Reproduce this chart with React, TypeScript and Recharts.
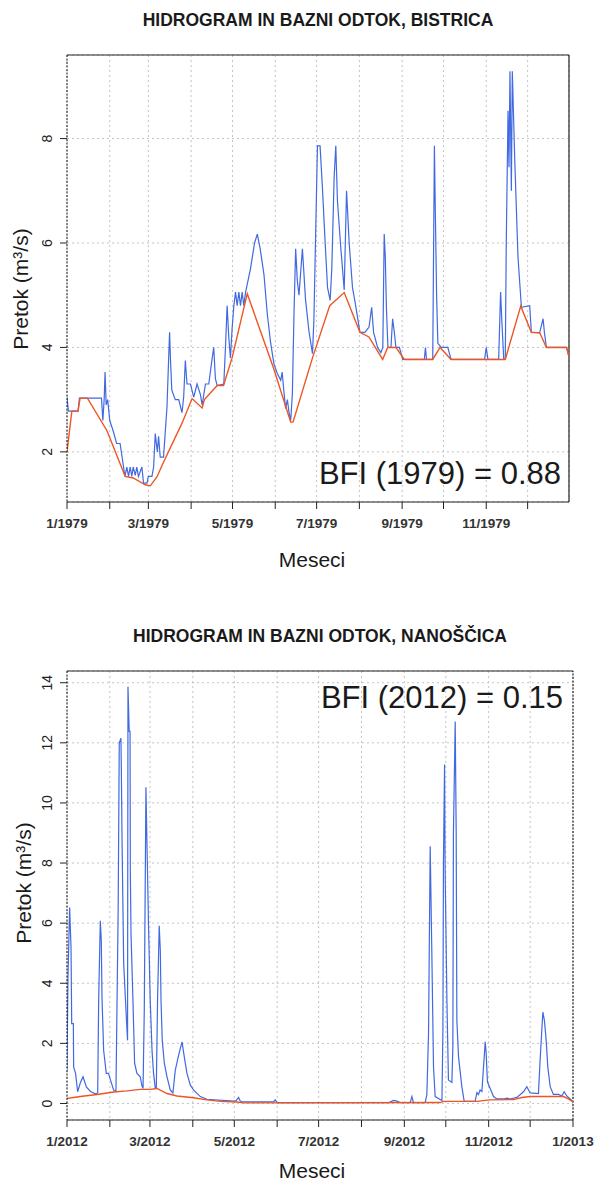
import { LineChart, Line, XAxis, YAxis, CartesianGrid, ReferenceLine } from 'recharts'

const BLUE = '#4169e1'
const ORANGE = '#ee5522'
const FONT = '"Liberation Sans", Arial, sans-serif'

// day of year at the start of each month
const MONTHS_1979 = [0, 31, 59, 90, 120, 151, 181, 212, 243, 273, 304, 334]
const LABELS_1979 = ['1/1979', '', '3/1979', '', '5/1979', '', '7/1979', '', '9/1979', '', '11/1979', '']
const MONTHS_2012 = [0, 31, 60, 91, 121, 152, 182, 213, 244, 274, 305, 335, 366]
const LABELS_2012 = ['1/2012', '', '3/2012', '', '5/2012', '', '7/2012', '', '9/2012', '', '11/2012', '', '1/2013']

const Y_TICKS_1979 = [2, 4, 6, 8]
const Y_TICKS_2012 = [0, 2, 4, 6, 8, 10, 12, 14]

// Bistrica 1979: [day, m3/s]
const BISTRICA_FLOW = [
  [0, 3.05], [1, 2.78], [8, 2.78], [9, 3.03], [25, 3.03], [26, 2.6], [27, 3.03], [27.6, 3.53], [28.4, 2.9],
  [29.5, 3.0], [31, 2.6], [33.5, 2.4], [36, 2.16], [38.5, 2.16], [41, 1.71], [42, 1.53], [43.4, 1.71],
  [44.6, 1.53], [45.8, 1.71], [47, 1.53], [48, 1.71], [49.5, 1.55], [50.6, 1.71], [51.8, 1.53], [54.3, 1.71],
  [55.5, 1.4], [58, 1.4], [59, 1.53], [61.6, 1.53], [62.8, 1.71], [64, 2.35], [65.5, 2.0], [66.4, 2.3],
  [67.6, 1.9], [70, 1.9], [72.5, 2.86], [73.7, 3.79], [74.4, 4.29], [75, 3.79], [76, 3.18], [78.5, 3.0],
  [81, 3.0], [83.4, 2.75], [84.6, 3.05], [85.8, 3.75], [87, 3.3], [89.5, 3.3], [91.9, 3.05], [94.3, 3.3],
  [96.7, 3.1], [98, 2.9], [100.4, 3.3], [102.8, 3.3], [105.2, 3.78], [106.4, 4.0], [107.6, 3.4], [108.9, 3.27],
  [113.7, 3.3], [114.9, 4.0], [116.1, 4.8], [117.3, 4.2], [118.5, 3.8], [119.8, 4.39], [121, 4.8], [122.2, 5.06],
  [123.4, 4.8], [124.6, 5.06], [125.8, 4.8], [127, 5.06], [128.2, 4.8], [129.5, 5.06], [133, 5.5], [136, 6.0],
  [138, 6.17], [140, 5.9], [142.8, 5.4], [145.2, 4.65], [147.6, 4.1], [150, 3.69], [152.5, 3.5], [155, 3.37],
  [156, 3.53], [157.3, 3.15], [158.5, 2.83], [159.8, 3.0], [161, 2.75], [162.2, 2.6], [163.4, 3.1], [164.6, 4.65],
  [165.8, 5.89], [167, 5.28], [168.2, 5.0], [170.7, 5.89], [171.6, 5.5], [173, 4.9], [175.5, 4.3], [178, 3.88],
  [179, 4.5], [181.6, 7.86], [183.5, 7.86], [185.2, 7.06], [187.1, 6.05], [188.9, 5.15], [190.8, 4.9], [192, 5.5],
  [193.7, 7.26], [194.9, 7.86], [196.1, 6.81], [198.5, 5.92], [201, 5.1], [202.7, 7.0], [204.6, 6.0], [207, 5.15],
  [209.5, 4.77], [212.4, 4.29], [216, 4.29], [219, 4.39], [220.9, 4.77], [222.3, 4.29], [225.2, 4.0], [227.6, 3.9],
  [229, 4.0], [230, 6.17], [230.8, 5.73], [231.6, 4.77], [232.7, 4.0], [234.9, 4.0], [236.1, 4.55], [237.3, 4.3],
  [238.5, 4.0], [241, 4.0], [243.4, 3.77], [259.1, 3.77], [259.9, 4.0], [260.7, 3.77], [265.2, 3.77], [266.4, 7.86],
  [267.1, 6.56], [268, 5.0], [268.9, 4.08], [271.3, 4.0], [276.1, 4.0], [278.5, 3.77], [302.8, 3.77], [304, 4.0],
  [305.2, 3.77], [313, 3.77], [314.4, 5.06], [315.3, 4.5], [316.7, 3.77], [317.8, 3.77], [318.5, 5.98], [319.8, 8.53],
  [320.5, 7.45], [321.2, 9.29], [322.2, 7.0], [322.9, 9.29], [324.6, 7.64], [327, 5.73], [329.5, 4.77], [335.5, 4.8],
  [336.7, 4.29], [342.7, 4.28], [345.2, 4.55], [346.2, 4.28], [347.6, 4.0], [362.2, 4.0], [364, 3.82]
]

const BISTRICA_BASE = [
  [0, 2.0], [3.5, 2.78], [8, 2.78], [9.5, 3.03], [14.8, 3.03], [28.9, 2.41], [42.2, 1.53], [48, 1.5], [56.7, 1.37],
  [60.4, 1.35], [65.2, 1.52], [69.8, 1.79], [83.4, 2.55], [90.7, 3.02], [98, 2.84], [99.6, 3.0], [108.9, 3.27],
  [113.5, 3.27], [119.8, 3.81], [130.7, 5.03], [149.8, 3.6], [162.2, 2.57], [163.9, 2.57], [178, 3.8], [190.5, 4.8],
  [201, 5.05], [212.4, 4.29], [218.9, 4.2], [228.9, 3.77], [232.5, 4.0], [238.5, 4.0], [244.6, 3.77], [265.2, 3.77],
  [270.5, 4.0], [278.5, 3.77], [317.8, 3.77], [329, 4.79], [336.7, 4.29], [342.8, 4.28], [347.6, 4.0], [362.2, 4.0],
  [364, 3.82]
]

// Nanoscica 2012: [day, m3/s]
const NANOSCICA_FLOW = [
  [0, 1.1], [0.7, 4.2], [1.9, 6.52], [2.9, 5.2], [3.4, 2.66], [4.6, 2.66], [4.8, 1.22], [6.2, 1.0], [7.7, 0.39],
  [9.6, 0.68], [11.6, 0.89], [14, 0.55], [17, 0.4], [20.5, 0.32], [22.2, 0.35], [22.9, 3.43], [24.1, 6.08],
  [24.8, 5.42], [25.3, 3.54], [26.5, 1.77], [28.4, 1.0], [30, 1.0], [31.3, 0.8], [33.7, 0.45], [35.4, 0.4],
  [37, 6.41], [37.8, 11.99], [39, 12.15], [39.3, 11.16], [39.8, 8.8], [41, 4.65], [42.9, 2.88], [43.8, 2.1],
  [44.1, 13.87], [45, 12.38], [45.6, 12.38], [45.8, 7.74], [46.3, 5.65], [47.7, 3.43], [48.9, 1.34], [50.6, 1.0],
  [53, 0.89], [54.2, 0.59], [55, 0.5], [55.9, 3.1], [57.1, 10.52], [57.8, 8.73], [59, 5.86], [60.2, 3.43],
  [61.5, 1.77], [62.6, 1.0], [63.8, 0.52], [64.6, 0.52], [65.5, 3.43], [66.7, 5.91], [67.5, 5.08], [68, 3.43],
  [68.9, 2.1], [70.4, 1.34], [72.3, 0.89], [74.7, 0.45], [76.6, 0.35], [78.3, 1.1], [80.7, 1.6], [83.2, 2.05],
  [85, 1.5], [86.8, 1.0], [89.2, 0.61], [91.5, 0.45], [96.4, 0.23], [101.2, 0.14], [120.5, 0.08], [122.5, 0.1],
  [124.1, 0.2], [125.3, 0.08], [127.7, 0.05], [149.4, 0.05], [150.6, 0.12], [152, 0.03], [233, 0.03], [236.2, 0.1],
  [238.6, 0.08], [241, 0.03], [248.2, 0.03], [249.5, 0.23], [250.6, 0.03], [259.1, 0.03], [260.3, 0.3],
  [261.5, 2.33], [262.7, 8.56], [263.9, 4.98], [265.1, 1.22], [266.3, 0.23], [271.2, 0.1], [271.9, 2.44],
  [272.3, 8.07], [273.1, 11.28], [273.5, 7.74], [274.8, 3.43], [275.9, 0.78], [278.4, 0.7], [279.1, 1.88],
  [279.5, 8.96], [280.8, 12.71], [281.5, 9.06], [282, 2.77], [283.2, 1.55], [285.6, 0.56], [287.3, 0.07],
  [295.2, 0.07], [296.5, 0.36], [297.6, 0.3], [298.8, 0.45], [300.1, 0.4], [302.5, 2.05], [303.2, 1.67],
  [304.1, 0.72], [306.1, 0.5], [308.5, 0.23], [310.9, 0.15], [315.7, 0.15], [318.2, 0.18], [320.5, 0.15],
  [325.4, 0.2], [330.2, 0.39], [332.6, 0.56], [335, 0.35], [341, 0.33], [342.2, 1.44], [344.2, 3.04], [345.3, 2.77],
  [346.6, 2.1], [347.8, 1.2], [349.5, 0.56], [351.8, 0.3], [355.5, 0.3], [357.9, 0.25], [359.6, 0.39],
  [361.5, 0.25], [363.9, 0.15], [366, 0.05]
]

const NANOSCICA_BASE = [
  [0, 0.17], [4.8, 0.2], [9.6, 0.23], [21.7, 0.3], [33.7, 0.38], [43.4, 0.42], [53, 0.47], [60.2, 0.47], [65.1, 0.5],
  [72.3, 0.33], [79.5, 0.25], [91.5, 0.19], [101.2, 0.12], [110.8, 0.07], [122.9, 0.05], [127.7, 0.02], [270, 0.03],
  [272.3, 0.07], [296.5, 0.07], [305.6, 0.12], [322.9, 0.13], [329, 0.2], [335, 0.23], [359.1, 0.23],
  [362.7, 0.15], [366, 0.05]
]

const toRows = (pairs: number[][]) => pairs.map(([day, q]) => ({ day, q }))

interface HydroProps {
  flow: number[][]
  base: number[][]
  months: number[]
  labels: string[]
  yTicks: number[]
  yDomain: number[]
  xMax: number
  margin: { top: number; right: number; bottom: number; left: number }
  dottedRight?: boolean
}

function Hydrograph({ flow, base, months, labels, yTicks, yDomain, xMax, margin, dottedRight }: HydroProps) {
  const xTick = (props: any) => {
    const { x, y, payload } = props
    const t = labels[months.indexOf(payload.value)]
    if (!t) return <g />
    return (
      <text x={x} y={y + 12} textAnchor="middle" fontFamily={FONT} fontSize={13.5} fontWeight="bold" fill="#333">
        {t}
      </text>
    )
  }
  const yTick = (props: any) => {
    const { x, y, payload } = props
    return (
      <text x={x} y={y} transform={`rotate(-90, ${x}, ${y})`} textAnchor="middle" fontFamily={FONT} fontSize={14} fill="#222">
        {payload.value}
      </text>
    )
  }

  return (
    <LineChart width={594} height={591} margin={margin}>
      <CartesianGrid stroke="#c4c4c4" strokeDasharray="2 3" />
      <XAxis
        dataKey="day"
        type="number"
        domain={[0, xMax]}
        ticks={months}
        interval={0}
        height={30}
        tickSize={7}
        tickMargin={7}
        tick={xTick}
        axisLine={{ stroke: '#222', strokeWidth: 1.2 }}
        tickLine={{ stroke: '#222' }}
        allowDataOverflow
      />
      <YAxis
        type="number"
        domain={yDomain}
        ticks={yTicks}
        interval={0}
        width={60}
        tickSize={7}
        tickMargin={8}
        tick={yTick}
        axisLine={{ stroke: '#111', strokeDasharray: '2 1.5' }}
        tickLine={{ stroke: '#222' }}
        allowDataOverflow
      />
      <ReferenceLine y={yDomain[1]} stroke="#222" strokeWidth={1.2} />
      <ReferenceLine x={xMax} stroke="#222" strokeWidth={1.2} strokeDasharray={dottedRight ? '2 1.5' : undefined} />
      <Line data={toRows(flow)} dataKey="q" type="linear" stroke={BLUE} strokeWidth={1.2} dot={false} isAnimationActive={false} />
      <Line data={toRows(base)} dataKey="q" type="linear" stroke={ORANGE} strokeWidth={1.4} dot={false} isAnimationActive={false} />
    </LineChart>
  )
}

export default function App() {
  const txt = { fontFamily: FONT, fill: '#1a1a1a' }
  return (
    <div style={{ position: 'absolute', left: 0, top: 0, width: 594, height: 1182, background: '#fff' }}>
      <div style={{ position: 'absolute', left: 0, top: 0 }}>
        <Hydrograph
          flow={BISTRICA_FLOW}
          base={BISTRICA_BASE}
          months={MONTHS_1979}
          labels={LABELS_1979}
          yTicks={Y_TICKS_1979}
          yDomain={[1.04, 9.6]}
          xMax={364}
          margin={{ top: 55, right: 25, bottom: 59, left: 7 }}
        />
      </div>
      <div style={{ position: 'absolute', left: 0, top: 591 }}>
        <Hydrograph
          flow={NANOSCICA_FLOW}
          base={NANOSCICA_BASE}
          months={MONTHS_2012}
          labels={LABELS_2012}
          yTicks={Y_TICKS_2012}
          yDomain={[-0.55, 14.39]}
          xMax={366}
          margin={{ top: 80, right: 21, bottom: 32, left: 7 }}
          dottedRight
        />
      </div>
      <svg width={594} height={1182} style={{ position: 'absolute', left: 0, top: 0, pointerEvents: 'none' }}>
        <text x={318} y={26} textAnchor="middle" fontSize={17.5} fontWeight="bold" {...txt}>
          HIDROGRAM IN BAZNI ODTOK, BISTRICA
        </text>
        <text x={28} y={289} transform="rotate(-90, 28, 289)" textAnchor="middle" fontSize={21} {...txt}>
          Pretok (m³/s)
        </text>
        <text x={312} y={567} textAnchor="middle" fontSize={21} {...txt}>
          Meseci
        </text>
        <text x={561} y={484} textAnchor="end" fontSize={31} {...txt}>
          BFI (1979) = 0.88
        </text>

        <text x={320} y={642} textAnchor="middle" fontSize={17.5} fontWeight="bold" {...txt}>
          HIDROGRAM IN BAZNI ODTOK, NANOŠČICA
        </text>
        <text x={31} y={883} transform="rotate(-90, 31, 883)" textAnchor="middle" fontSize={21} {...txt}>
          Pretok (m³/s)
        </text>
        <text x={312} y={1178} textAnchor="middle" fontSize={21} {...txt}>
          Meseci
        </text>
        <text x={563} y={708} textAnchor="end" fontSize={31} {...txt}>
          BFI (2012) = 0.15
        </text>
      </svg>
    </div>
  )
}
